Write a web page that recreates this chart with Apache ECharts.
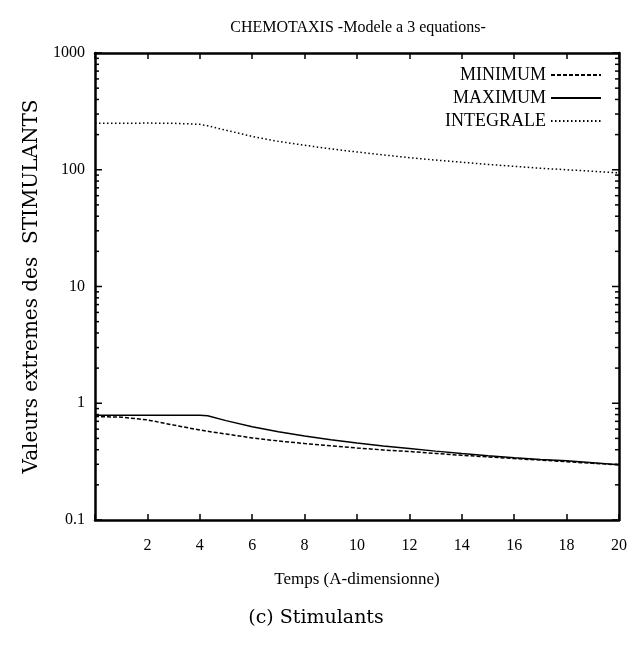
<!DOCTYPE html>
<html>
<head>
<meta charset="utf-8">
<script src="https://cdn.jsdelivr.net/npm/echarts@6/dist/echarts.min.js"></script>
<style>
html,body{margin:0;padding:0;background:#fff;}
#chart{width:633px;height:652px;}
</style>
</head>
<body>
<div id="chart"></div>
<script>
// ---- data ----
const titleText = 'CHEMOTAXIS -Modele a 3 equations-';
const xName = 'Temps (A-dimensionne)';
const yName = 'Valeurs extremes des  STIMULANTS';
const caption = '(c) Stimulants';
const seriesNames = ['MINIMUM', 'MAXIMUM', 'INTEGRALE'];

const times     = [0, 1, 2, 3, 4, 4.3, 5, 6, 7, 8, 9, 10, 11, 12, 13, 14, 15, 16, 17, 18, 19, 20];
const minimum   = [0.77, 0.76, 0.72, 0.65, 0.59, 0.575, 0.545, 0.505, 0.475, 0.452, 0.432, 0.414, 0.398, 0.386, 0.372, 0.358, 0.347, 0.336, 0.326, 0.316, 0.306, 0.297];
const maximum   = [0.79, 0.79, 0.79, 0.79, 0.79, 0.78, 0.71, 0.63, 0.57, 0.525, 0.487, 0.457, 0.43, 0.409, 0.389, 0.371, 0.355, 0.341, 0.33, 0.321, 0.31, 0.298];
const integrale = [250, 250, 251, 250, 245, 238, 218, 193, 175, 162, 151, 142, 134, 127, 121, 116, 111, 107, 103, 100, 97, 94];

const yTickLabels = {0.1: '0.1', 1: '1', 10: '10', 100: '100', 1000: '1000'};
const majorTickValues = [0.1, 1, 10, 100, 1000];
const minorTickValues = [0.2,0.3,0.4,0.5,0.6,0.7,0.8,0.9, 2,3,4,5,6,7,8,9, 20,30,40,50,60,70,80,90, 200,300,400,500,600,700,800,900];

// ---- chart ----
const pair = arr => times.map((t, i) => [t, arr[i]]);
const serif = 'Liberation Serif';
const axisLineStyle = {color: '#000', width: 2.5};
const tickStyle = {color: '#000', width: 1.5};

function tickRenderer(len) {
  return function (params, api) {
    const v = api.value(1);
    const l = api.coord([0, v]);
    const r = api.coord([20, v]);
    return {type: 'group', children: [
      {type: 'line', shape: {x1: l[0], y1: l[1], x2: l[0] + len, y2: l[1]}, style: {stroke: '#000', lineWidth: 1.5}},
      {type: 'line', shape: {x1: r[0], y1: r[1], x2: r[0] - len, y2: r[1]}, style: {stroke: '#000', lineWidth: 1.5}}
    ]};
  };
}

const chart = echarts.init(document.getElementById('chart'), null, {renderer: 'canvas'});
chart.setOption({
  animation: false,
  backgroundColor: '#fff',
  grid: {left: 95, right: 14, top: 53, bottom: 132},
  graphic: [
    {type: 'text', x: 358, y: 28, style: {text: titleText, font: '16px "' + serif + '"', fill: '#000', align: 'center', verticalAlign: 'middle'}},
    {type: 'text', x: 316, y: 618, style: {text: caption, font: '19px "DejaVu Serif"', fill: '#000', align: 'center', verticalAlign: 'middle'}}
  ],
  legend: {
    data: seriesNames,
    orient: 'vertical',
    right: 31, top: 66,
    align: 'right',
    padding: 0,
    itemWidth: 50, itemHeight: 14, itemGap: 5,
    itemStyle: {opacity: 0, borderWidth: 0},
    textStyle: {fontFamily: serif, fontSize: 18, color: '#000'}
  },
  xAxis: [{
    type: 'value', min: 0, max: 20, interval: 2,
    name: xName, nameLocation: 'middle', nameGap: 51,
    nameTextStyle: {fontFamily: serif, fontSize: 17, color: '#000'},
    axisLine: {show: true, lineStyle: axisLineStyle},
    axisTick: {show: true, inside: true, length: 6, lineStyle: tickStyle},
    axisLabel: {margin: 18, fontFamily: serif, fontSize: 16, color: '#000', formatter: v => v === 0 ? '' : String(v)},
    splitLine: {show: false}
  }, {
    type: 'value', min: 0, max: 20, interval: 2, position: 'top',
    axisLine: {show: true, lineStyle: axisLineStyle},
    axisTick: {show: true, inside: true, length: 6, lineStyle: tickStyle},
    axisLabel: {show: false},
    splitLine: {show: false}
  }],
  yAxis: [{
    type: 'log', logBase: 10, min: 0.1, max: 1000,
    name: yName, nameLocation: 'middle', nameGap: 46, nameRotate: 90,
    nameTextStyle: {fontFamily: 'DejaVu Serif', fontSize: 20, color: '#000'},
    axisLine: {show: true, lineStyle: axisLineStyle},
    axisTick: {show: false},
    axisLabel: {margin: 10, fontFamily: serif, fontSize: 16, color: '#000', formatter: v => yTickLabels[+(+v).toPrecision(3)] || ''},
    splitLine: {show: false}
  }, {
    type: 'value', min: 0, max: 1, position: 'right',
    axisLine: {show: true, onZero: false, lineStyle: axisLineStyle},
    axisTick: {show: false},
    axisLabel: {show: false},
    splitLine: {show: false}
  }],
  series: [
    {name: 'MINIMUM', type: 'line', data: pair(minimum), symbol: 'none', showSymbol: false,
     lineStyle: {color: '#000', width: 1.5, type: [4, 2]}, itemStyle: {color: '#000'}},
    {name: 'MAXIMUM', type: 'line', data: pair(maximum), symbol: 'none', showSymbol: false,
     lineStyle: {color: '#000', width: 1.5, type: 'solid'}, itemStyle: {color: '#000'}},
    {name: 'INTEGRALE', type: 'line', data: pair(integrale), symbol: 'none', showSymbol: false,
     lineStyle: {color: '#000', width: 1.5, type: [1.5, 2.5]}, itemStyle: {color: '#000'}},
    {name: 'majorTicks', type: 'custom', silent: true,
     data: majorTickValues.map(v => [0, v]), renderItem: tickRenderer(7)},
    {name: 'minorTicks', type: 'custom', silent: true,
     data: minorTickValues.map(v => [0, v]), renderItem: tickRenderer(4)}
  ]
});
</script>
</body>
</html>
